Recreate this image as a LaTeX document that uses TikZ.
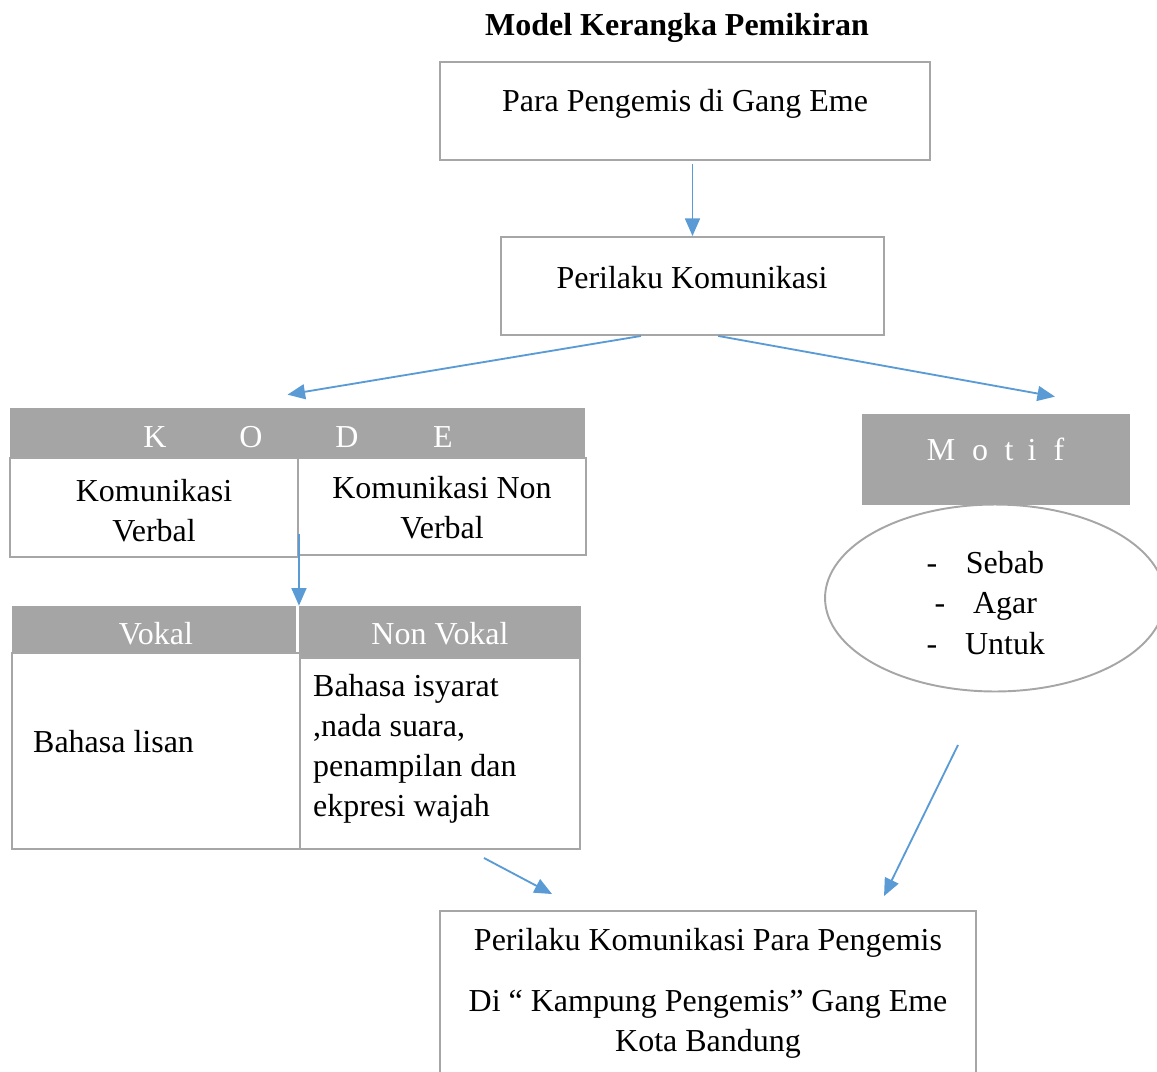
\documentclass[tikz,border=0pt]{standalone}
\usepackage{fontspec}
\setmainfont{Liberation Serif}
\usetikzlibrary{arrows.meta,fit,calc,shapes.geometric}

\definecolor{boxgray}{RGB}{166,166,166}
\definecolor{headgray}{RGB}{165,165,165}
\definecolor{arrblue}{RGB}{91,155,213}

\begin{document}
\begin{tikzpicture}[x=0.02cm, y=-0.02cm, every node/.style={font=\fontsize{18.2}{22.7}\selectfont}]
  % -----------------------------
  % STYLES
  % -----------------------------
  \tikzset{
    box/.style={draw=boxgray, line width=1.1pt, inner sep=0pt},
    head/.style={fill=headgray, inner sep=0pt},
    htext/.style={text=white, text height=1.5ex, text depth=.25ex},
    item/.style={text height=1.5ex, text depth=.25ex},
    ell/.style={ellipse, draw=boxgray, line width=1.1pt, minimum width=6.8cm, minimum height=3.74cm},
    arr/.style={draw=arrblue, line width=1.05pt, -{Triangle[length=10pt,width=8.5pt]}},
  }

  \useasboundingbox (0,0) rectangle (1157,1072);

  % -----------------------------
  % TITLE
  % -----------------------------
  \node[font=\fontsize{18.2}{22.7}\selectfont\bfseries] (title) at (677,28) {Model Kerangka Pemikiran};

  % -----------------------------
  % TOP BOXES
  % -----------------------------
  \node[box, fit={(440,62) (930,160)}] (para) {};
  \node (paratxt) at (685,104) {Para Pengemis di Gang Eme};

  \node[box, fit={(501,237) (884,335)}] (perilaku) {};
  \node (perilakutxt) at (692,278) {Perilaku Komunikasi};

  % -----------------------------
  % KODE
  % -----------------------------
  \node[head, fit={(10,408) (585,458)}] (kode) {};
  \foreach \c [count=\k] in {K,O,D,E}
    \node[htext] (kode\k) at ({155+96*(\k-1)},442) {\c};

  \node[box, fit={(10,458) (298,557)}] (verbal) {};
  \node[align=center] (verbaltxt) at (154,511) {Komunikasi\\Verbal};
  \node[box, fit={(298,458) (586,555)}] (nonverbal) {};
  \node[align=center] (nonverbaltxt) at (442,508) {Komunikasi Non\\Verbal};

  % Vokal / Non Vokal
  \node[head, fit={(12,606) (296,653)}] (vokal) {};
  \node[htext] (vokaltxt) at (156,639) {Vokal};
  \node[head, fit={(299,606) (581,658)}] (nonvokal) {};
  \node[htext] (nonvokaltxt) at (440,639) {Non Vokal};

  \node[box, fit={(12,653) (300,849)}] (lisan) {};
  \node[anchor=west] (lisantxt) at (27,742) {Bahasa lisan};
  \node[box, fit={(300,658) (580,849)}] (isyarat) {};
  \node[anchor=west, align=left] (isyarattxt) at (307,749)
    {Bahasa isyarat\\,nada suara,\\penampilan dan\\ekpresi wajah};

  % -----------------------------
  % MOTIF
  % -----------------------------
  \node[head, fit={(862,414) (1130,505)}] (motif) {};
  \foreach \x/\c in {941/M,980/o,1009/t,1032/i,1059/f}
    \node[htext] (motif\c) at (\x,455) {\c};

  \node[ell] (alasan) at (995,598) {};
  \foreach \y/\d/\w [count=\k] in {568/932/Sebab,608/940/Agar,649/932/Untuk} {
    \node[item] (dash\k) at (\d,\y) {-};
    \node[item] (item\k) at (1005,\y) {\w};
  }

  % -----------------------------
  % RESULT
  % -----------------------------
  \node[box, fit={(440,911) (976,1090)}] (hasil) {};
  \node (hasiltxt) at (708,943) {Perilaku Komunikasi Para Pengemis};
  \node[align=center] (hasiltxt2) at (708,1024) {Di “ Kampung Pengemis” Gang Eme\\Kota Bandung};

  % -----------------------------
  % ARROWS
  % -----------------------------
  \draw[arr] (para.south -| perilaku.north) ++(0,3) -- (perilaku.north);
  \draw[arr] ($(perilaku.south west)!0.366!(perilaku.south east)$) -- ($(kode.north)+(-10,-13)$);
  \draw[arr] ($(perilaku.south west)!0.567!(perilaku.south east)$) -- ($(motif.north)+(59,-17)$);
  \draw[arr] ($(verbal.south east)+(0,-24)$) -- (verbal.south east |- vokal.north);

  \coordinate (kodeout) at (484,858);
  \coordinate (motifout) at (958,745);
  \draw[arr] (kodeout) -- ($(hasil.north west)+(113,-16)$);
  \draw[arr] (motifout) -- ($(hasil.north west)+(445,-14)$);
\end{tikzpicture}
\end{document}
